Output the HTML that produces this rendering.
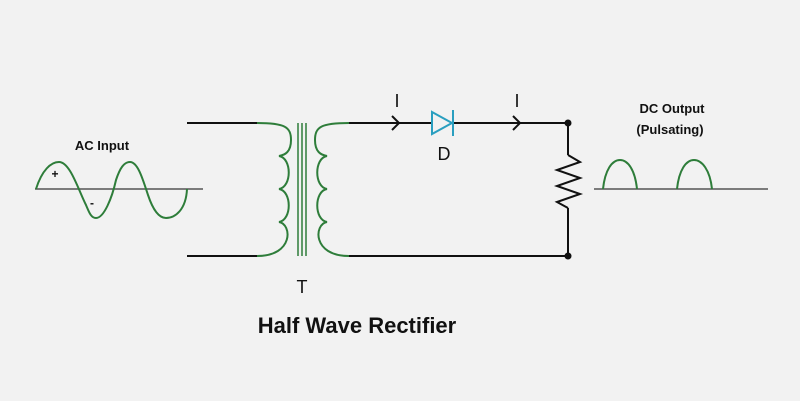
<!DOCTYPE html>
<html><head><style>
html,body{margin:0;padding:0;background:#f2f2f2;}
svg{display:block}
text{font-family:"Liberation Sans","DejaVu Sans",sans-serif;fill:#111}
</style></head><body>
<svg width="800" height="401" viewBox="0 0 800 401" xmlns="http://www.w3.org/2000/svg">
<rect width="800" height="401" fill="#f2f2f2"/>
<g fill="none" stroke-width="2">
<line x1="35" y1="189" x2="203" y2="189" stroke="#555" stroke-width="1.5"/>
<path d="M36,189 C42,170 51,162 59,162 C70,162 78,189 86,205 C89,212 91,218 96,218 C104,218 112,198 116,180 C120,168 124,162 130,162 C138,162 143,180 148,195 C153,210 159,218 166,218 C175,218 186,210 187,189" stroke="#2e7d3a"/>
<line x1="594" y1="189" x2="768" y2="189" stroke="#555" stroke-width="1.5"/>
<path d="M603,189 C605,170 612,160 620,160 C628,160 635,170 637,189" stroke="#2e7d3a"/>
<path d="M677,189 C679,170 686,160 694,160 C702,160 710,170 712,189" stroke="#2e7d3a"/>
<line x1="187" y1="123" x2="257" y2="123" stroke="#111"/>
<line x1="187" y1="256" x2="257" y2="256" stroke="#111"/>
<line x1="349" y1="123" x2="568" y2="123" stroke="#111"/>
<line x1="349" y1="256" x2="568" y2="256" stroke="#111"/>
<line x1="568" y1="123" x2="568" y2="155" stroke="#111"/>
<line x1="568" y1="208" x2="568" y2="256" stroke="#111"/>
<polyline points="568,155 580,162 557,170 580,178 557,186 580,194 557,202 568,208" stroke="#111"/>
<path d="M257,123 C285,123 291,127 291,140 C291,152 285,155 279,156 C292,158 292,187 279,189 C292,191 292,220 279,222 C292,224 294,256 257,256" stroke="#2e7d3a"/>
<path d="M349,123 C321,123 315,127 315,140 C315,152 321,155 327,156 C314,158 314,187 327,189 C314,191 314,220 327,222 C314,224 312,256 349,256" stroke="#2e7d3a"/>
<line x1="298" y1="123" x2="298" y2="256" stroke="#2e7d3a" stroke-width="1.5"/>
<line x1="302" y1="123" x2="302" y2="256" stroke="#2e7d3a" stroke-width="1.5"/>
<line x1="306" y1="123" x2="306" y2="256" stroke="#2e7d3a" stroke-width="1.5"/>
<polyline points="392,116 399,123 392,130" stroke="#111"/>
<polyline points="513,116 520,123 513,130" stroke="#111"/>
<rect x="420" y="110" width="40" height="26" fill="#f2f2f2" stroke="none"/>
<line x1="420" y1="123" x2="432" y2="123" stroke="#111"/>
<line x1="453" y1="123" x2="462" y2="123" stroke="#111"/>
<polygon points="432,112 452,123 432,134" stroke="#2a9fc0"/>
<line x1="453" y1="110" x2="453" y2="136" stroke="#2a9fc0"/>
</g>
<circle cx="568" cy="123" r="3.5" fill="#111"/>
<circle cx="568" cy="256" r="3.5" fill="#111"/>
<text x="397" y="107" font-size="18" text-anchor="middle">I</text>
<text x="517" y="107" font-size="18" text-anchor="middle">I</text>
<text x="444" y="160" font-size="18" text-anchor="middle">D</text>
<text x="302" y="293" font-size="18" text-anchor="middle">T</text>
<text x="102" y="150" font-size="13" font-weight="bold" text-anchor="middle">AC Input</text>
<text x="55" y="178" font-size="12" font-weight="bold" text-anchor="middle">+</text>
<text x="92" y="207" font-size="12" font-weight="bold" text-anchor="middle">-</text>
<text x="672" y="113" font-size="13" font-weight="bold" text-anchor="middle">DC Output</text>
<text x="670" y="134" font-size="13" font-weight="bold" text-anchor="middle">(Pulsating)</text>
<text x="357" y="333" font-size="22" font-weight="bold" text-anchor="middle">Half Wave Rectifier</text>
</svg>
</body></html>
